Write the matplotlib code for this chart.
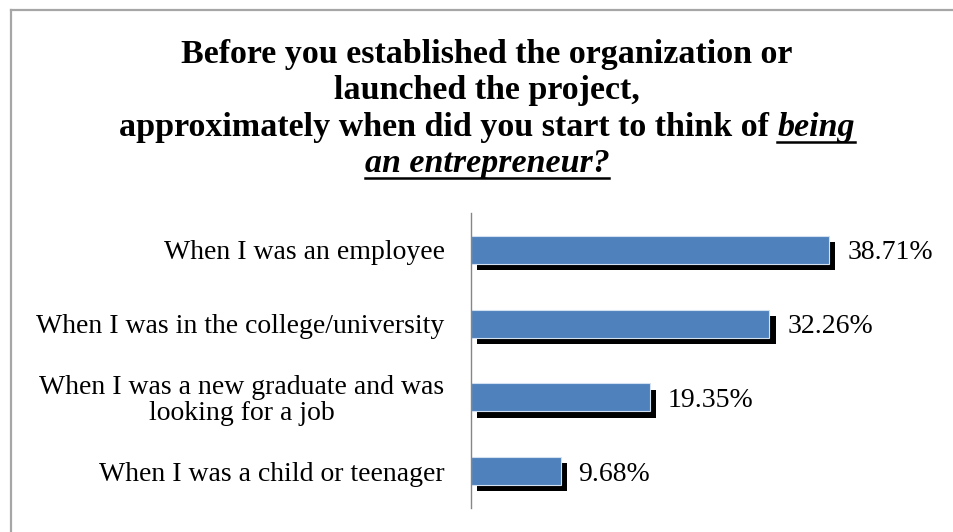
import matplotlib
matplotlib.use("Agg")
import matplotlib.pyplot as plt
from matplotlib import patheffects
from matplotlib.lines import Line2D

# survey answers, percent of respondents
categories = [
    "When I was an employee",
    "When I was in the college/university",
    "When I was a new graduate and was\nlooking for a job",
    "When I was a child or teenager",
]
shares = [38.71, 32.26, 19.35, 9.68]

title_lines = [
    "Before you established the organization or",
    "launched the project,",
    "approximately when did you start to think of",
]
title_italic = ["being", "an entrepreneur?"]

W, H = 954, 532
plt.rcParams['font.family'] = ['Liberation Serif', 'DejaVu Serif']

fig = plt.figure(figsize=(W / 100, H / 100), dpi=100)


def fx(px):
    return px / W


def fy(py):
    return 1 - py / H


# chart frame (only top and left edges are visible)
fig.add_artist(Line2D([fx(11), fx(11)], [0, fy(10)], color='#a6a6a6', lw=1.6))
fig.add_artist(Line2D([fx(11), 1], [fy(10), fy(10)], color='#a6a6a6', lw=1.6))

ax = fig.add_axes([fx(471), fy(508), fx(929) - fx(471), fy(213) - fy(508)])
pos = list(range(len(categories)))
shadow = [patheffects.SimplePatchShadow(offset=(4.5, -4.5), shadow_rgbFace='black', alpha=1.0),
          patheffects.Normal()]
bars = ax.barh(pos, shares, height=0.38, color='#4f81bd', edgecolor='#d3e0f0',
               linewidth=0.8, path_effects=shadow)
vlabels = ax.bar_label(bars, labels=[f"{v:.2f}%" for v in shares], padding=13, fontsize=20)
for t in vlabels:
    t.set_va('center_baseline')

ax.set_xlim(0, 49.5)
ax.set_ylim(3.5, -0.5)
ax.set_xticks([])
ax.set_yticks(pos, categories, fontsize=20)
ax.tick_params(axis='y', length=0, pad=19)
for lbl in ax.get_yticklabels():
    lbl.set_multialignment('center')
    lbl.set_linespacing(1.05)
for s in ['top', 'right', 'bottom']:
    ax.spines[s].set_visible(False)
ax.spines['left'].set_color('#868686')
ax.spines['left'].set_linewidth(1.0)

# title, with the last words in underlined bold italic
cx = 487
tsize = 24.5
base = [63, 99, 136, 172]
fig.text(fx(cx), fy(base[0]), title_lines[0], ha='center', va='baseline',
         fontsize=tsize, fontweight='bold')
fig.text(fx(cx), fy(base[1]), title_lines[1], ha='center', va='baseline',
         fontsize=tsize, fontweight='bold')

fig.canvas.draw()
renderer = fig.canvas.get_renderer()

t3a = fig.text(0, fy(base[2]), title_lines[2], ha='left', va='baseline',
               fontsize=tsize, fontweight='bold')
t3b = fig.text(0, fy(base[2]), title_italic[0], ha='left', va='baseline',
               fontsize=tsize, fontweight='bold', fontstyle='italic')
wa = t3a.get_window_extent(renderer).width
wb = t3b.get_window_extent(renderer).width
gap = tsize * 100 / 72 * 0.25
x0 = cx - (wa + gap + wb) / 2
t3a.set_x(fx(x0))
t3b.set_x(fx(x0 + wa + gap))

t4 = fig.text(fx(cx), fy(base[3]), title_italic[1], ha='center', va='baseline',
              fontsize=tsize, fontweight='bold', fontstyle='italic')
w4 = t4.get_window_extent(renderer).width

ul_off = 5.5
fig.add_artist(Line2D([fx(x0 + wa + gap), fx(x0 + wa + gap + wb)],
                      [fy(base[2] + ul_off)] * 2, color='black', lw=1.8))
fig.add_artist(Line2D([fx(cx - w4 / 2), fx(cx + w4 / 2)],
                      [fy(base[3] + ul_off)] * 2, color='black', lw=1.8))

fig.savefig("out.png", dpi=100)
